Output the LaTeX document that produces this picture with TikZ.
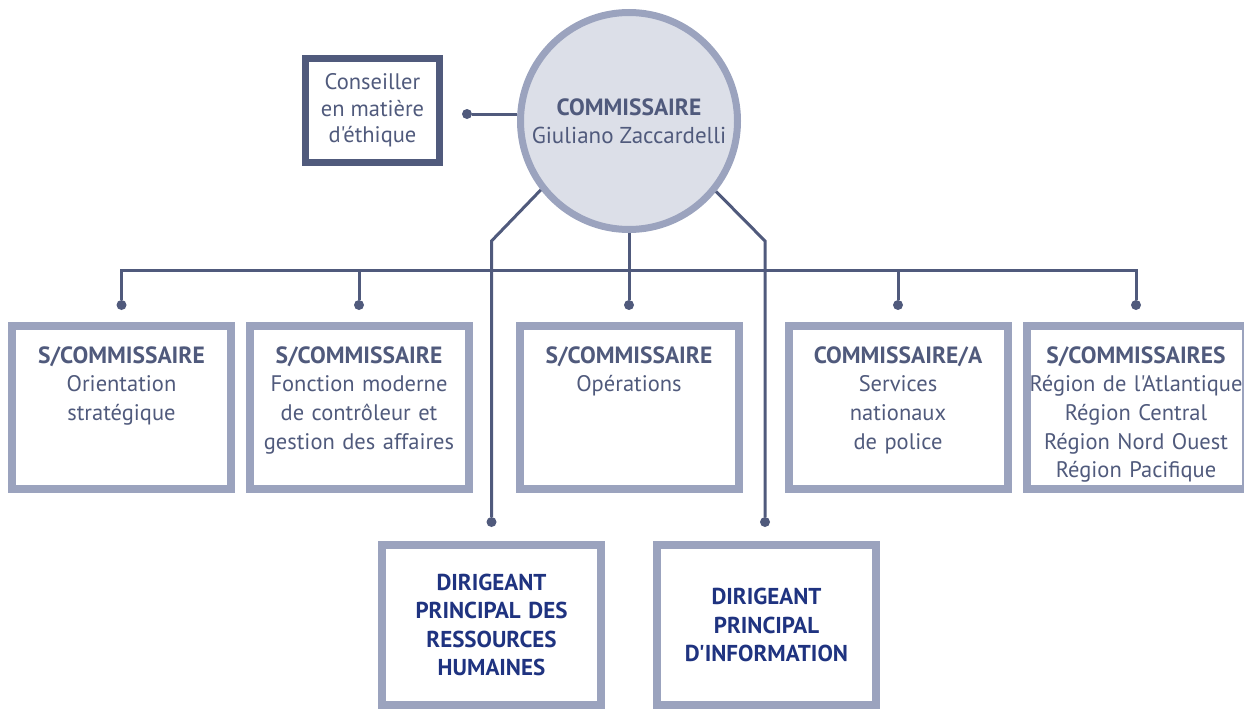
\documentclass[tikz,border=0pt]{standalone}
\usepackage{fontspec}
\setmainfont{PT Sans}[Ligatures=TeXOff]
\usepackage{tikz}
\usetikzlibrary{positioning}
\definecolor{slate}{RGB}{80,90,124}
\definecolor{frame}{RGB}{155,163,190}
\definecolor{disc}{RGB}{220,223,232}
\definecolor{navy}{RGB}{31,51,128}
\newcommand{\rank}[1]{{\fontsize{23.5}{28.6}\selectfont\bfseries #1}}
\tikzset{
	head/.style={
		draw=frame, circle, line width=7pt, fill=disc,
		minimum size=217pt, inner sep=0pt, align=center,
		text=slate, font=\fontsize{23}{28.4}\selectfont
	},
	advisor/.style={
		draw=slate, rectangle, line width=7pt,
		minimum width=134pt, minimum height=104pt, align=center,
		text=slate, font=\fontsize{22.5}{26.5}\selectfont
	},
	unit_box/.style={
		draw=frame, rectangle, line width=8pt, inner sep=0pt,
		text width=219pt, text height=37pt, text depth=126pt,
		align=center, text=slate, font=\fontsize{22.5}{28.7}\selectfont
	},
	office_box/.style={
		draw=frame, rectangle, line width=8pt, inner sep=0pt,
		text width=219pt, minimum height=160pt, align=center,
		text=navy, font=\fontsize{23}{28.5}\selectfont\bfseries
	},
	joint/.style={circle, fill=slate, inner sep=0pt, minimum size=10pt},
	link/.style={draw=slate, line width=3pt}
}

\begin{document}
\begin{tikzpicture}[x=1pt,y=-1pt]
	\useasboundingbox (0,0) rectangle (1244,709);
	\node[head]    (comm) at (629,121) {\rank{COMMISSAIRE}\\Giuliano Zaccardelli};
	\node[advisor] (eth)  at (372.5,110.5) {Conseiller\\en matière\\d'éthique};
	\node[unit_box] (so)  at (121.5,407.5) {\rank{S/COMMISSAIRE}\\Orientation\\stratégique};
	\node[unit_box] (fm)  at (359,407.5) {\rank{S/COMMISSAIRE}\\Fonction moderne\\de contrôleur et\\gestion des affaires};
	\node[unit_box] (ops) at (629,407.5) {\rank{S/COMMISSAIRE}\\Opérations};
	\node[unit_box] (sn)  at (898,407.5) {\rank{COMMISSAIRE/A}\\Services\\nationaux\\de police};
	\node[unit_box] (reg) at (1136,407.5) {\rank{S/COMMISSAIRES}\\Région de l'Atlantique\\Région Central\\Région Nord Ouest\\Région Pacifique};
	\node[office_box] (rh)   at (491.5,625) {DIRIGEANT\\PRINCIPAL DES\\RESSOURCES\\HUMAINES};
	\node[office_box] (info) at (766.5,625) {DIRIGEANT\\PRINCIPAL\\D'INFORMATION};

	\node[joint] (j-eth)  at (467,114) {};
	\node[joint] (j-so)   at (121.5,305) {};
	\node[joint] (j-fm)   at (359,305) {};
	\node[joint] (j-ops)  at (629,305) {};
	\node[joint] (j-sn)   at (898,305) {};
	\node[joint] (j-reg)  at (1136,305) {};
	\node[joint] (j-rh)   at (491.5,522) {};
	\node[joint] (j-info) at (765,522) {};
	\coordinate (bus)   at (629,270);
	\coordinate (elbow) at (629,241);

	\draw[link] (j-eth) -- (j-eth -| comm.west);
	\draw[link] (comm.south) -- (j-ops);
	\draw[link] (j-so) -- (j-so |- bus) -- (j-reg |- bus) -- (j-reg);
	\draw[link] (j-fm) -- (j-fm |- bus);
	\draw[link] (j-sn) -- (j-sn |- bus);
	\draw[link] (comm.218.5) -- (j-rh |- elbow) -- (j-rh);
	\draw[link] (comm.321.5) -- (j-info |- elbow) -- (j-info);
\end{tikzpicture}
\end{document}
